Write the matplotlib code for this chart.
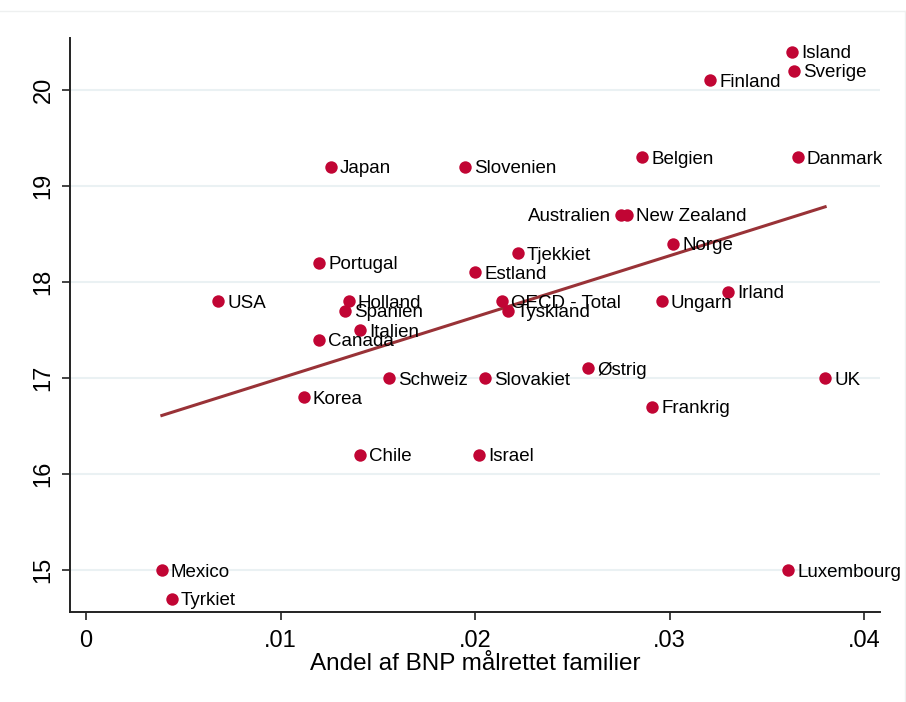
import numpy as np
import matplotlib
matplotlib.use("Agg")
import matplotlib.pyplot as plt
from matplotlib.lines import Line2D

plt.rcParams['font.family'] = ['Liberation Sans', 'DejaVu Sans']

countries = ["Island", "Sverige", "Finland", "Belgien", "Danmark", "Japan", "Slovenien",
             "Australien", "New Zealand", "Norge", "Tjekkiet", "Portugal", "Estland",
             "Irland", "USA", "Holland", "OECD - Total", "Ungarn", "Spanien", "Tyskland",
             "Italien", "Canada", "Østrig", "UK", "Schweiz", "Slovakiet", "Korea",
             "Frankrig", "Chile", "Israel", "Mexico", "Luxembourg", "Tyrkiet"]
andel = [0.0363, 0.0364, 0.0321, 0.0286, 0.0366, 0.0126, 0.0195,
         0.0275, 0.0278, 0.0302, 0.0222, 0.0120, 0.0200,
         0.0330, 0.0068, 0.0135, 0.0214, 0.0296, 0.0133, 0.0217,
         0.0141, 0.0120, 0.0258, 0.0380, 0.0156, 0.0205, 0.0112,
         0.0291, 0.0141, 0.0202, 0.0039, 0.0361, 0.0044]
vaerdi = [20.4, 20.2, 20.1, 19.3, 19.3, 19.2, 19.2,
          18.7, 18.7, 18.4, 18.3, 18.2, 18.1,
          17.9, 17.8, 17.8, 17.8, 17.8, 17.7, 17.7,
          17.5, 17.4, 17.1, 17.0, 17.0, 17.0, 16.8,
          16.7, 16.2, 16.2, 15.0, 15.0, 14.7]
left_labels = ["Australien"]

xticks = [0, 0.01, 0.02, 0.03, 0.04]
xticklabels = ["0", ".01", ".02", ".03", ".04"]
yticks = [15, 16, 17, 18, 19, 20]

red = "#C10534"
fitcol = "#993237"

fig = plt.figure(figsize=(9.06, 7.02), dpi=100)
# faint outer graph region border
fig.add_artist(Line2D([0, 905/906], [1 - 11/702, 1 - 11/702], color="#EEF0F0", lw=1))
fig.add_artist(Line2D([905/906, 905/906], [0, 1 - 11/702], color="#EEF0F0", lw=1))

ax = fig.add_axes([70/906, 90/702, 810/906, 574/702])
ax.set_xlim(-0.000823, 0.04082)
ax.set_ylim(14.5625, 20.5417)

for y in yticks:
    ax.axhline(y, color="#EAF1F3", lw=1.5, zorder=0)

ax.scatter(andel, vaerdi, s=80, color=red, zorder=3, linewidths=0)

xs = np.array(andel)
b, a = np.polyfit(xs, np.array(vaerdi), 1)
xl = np.array([xs.min(), xs.max()])
ax.plot(xl, a + b * xl, color=fitcol, lw=2.2, zorder=2)

for name, x, y in zip(countries, andel, vaerdi):
    if name in left_labels:
        ax.annotate(name, (x, y), xytext=(-7, -1), textcoords="offset points",
                    ha="right", va="center", fontsize=13.5, zorder=4)
    else:
        ax.annotate(name, (x, y), xytext=(6.5, -1.5), textcoords="offset points",
                    ha="left", va="center", fontsize=13.5, zorder=4)

ax.set_xticks(xticks)
ax.set_xticklabels(xticklabels)
ax.set_yticks(yticks)
ax.set_yticklabels([str(t) for t in yticks], rotation=90, va="center")
ax.tick_params(axis="both", labelsize=17, length=6, width=1.2, color="#222222", pad=7)
ax.tick_params(axis="y", pad=5)

for s in ["top", "right"]:
    ax.spines[s].set_visible(False)
for s in ["left", "bottom"]:
    ax.spines[s].set_linewidth(1.4)
    ax.spines[s].set_color("#222222")

ax.set_xlabel("Andel af BNP målrettet familier", fontsize=17.5, labelpad=1)

fig.savefig("out.png", dpi=100)
